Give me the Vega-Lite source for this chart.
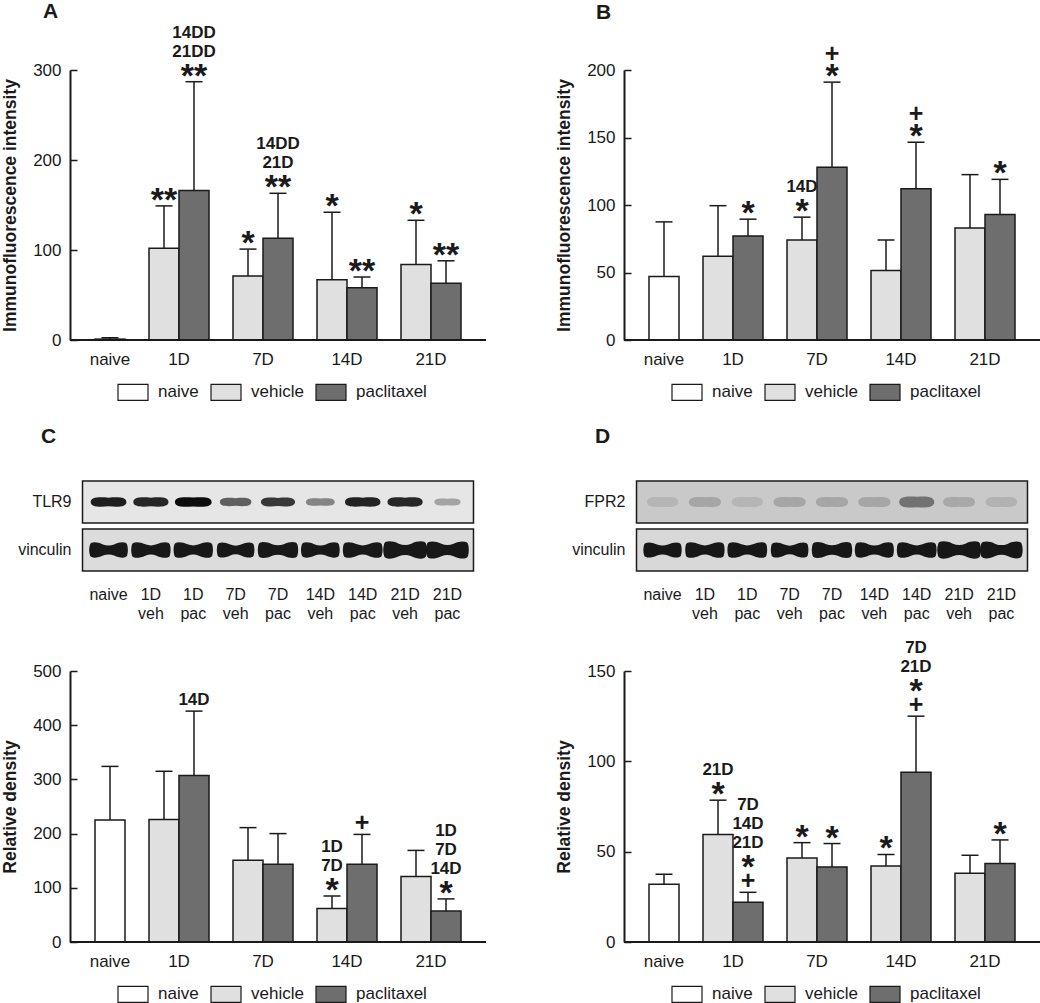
{
  "$schema": "https://vega.github.io/schema/vega-lite/v6.json",
  "background": "white",
  "padding": {"left": 1, "top": 0, "right": 0, "bottom": 0},
  "columns": 2,
  "spacing": {"row": 100, "column": 138},
  "bounds": "flush",
  "resolve": {"scale": {"fill": "independent"}, "legend": {"fill": "independent"}},
  "concat": [
    {
      "width": 416, "height": 270,
      "title": {"text": "A", "dx": -27, "dy": 4},
      "data": {"values": [
        {"g": "naive", "t": "naive", "mean": 1, "upper": 2.5},
        {"g": "1D", "t": "vehicle", "mean": 102, "upper": 149, "star": ["\u200b", "\u200b", "**"]},
        {"g": "1D", "t": "paclitaxel", "mean": 166, "upper": 287, "lab": ["14DD", "21DD"], "star": ["\u200b", "\u200b", "**"]},
        {"g": "7D", "t": "vehicle", "mean": 71, "upper": 101, "star": ["\u200b", "\u200b", "*"]},
        {"g": "7D", "t": "paclitaxel", "mean": 113, "upper": 163, "lab": ["14DD", "21D"], "star": ["\u200b", "\u200b", "**"]},
        {"g": "14D", "t": "vehicle", "mean": 67, "upper": 142, "star": ["\u200b", "\u200b", "*"]},
        {"g": "14D", "t": "paclitaxel", "mean": 58, "upper": 70, "star": ["\u200b", "\u200b", "**"]},
        {"g": "21D", "t": "vehicle", "mean": 84, "upper": 133, "star": ["\u200b", "\u200b", "*"]},
        {"g": "21D", "t": "paclitaxel", "mean": 63, "upper": 88, "star": ["\u200b", "\u200b", "**"]}
      ]},
      "layer": [
        {
          "encoding": {
            "x": {"field": "g", "type": "nominal", "scale": {"domain": ["naive", "1D", "7D", "14D", "21D"], "range": [-5, 391], "paddingInner": 0.2857, "paddingOuter": 0},
              "axis": {"title": null, "domain": false, "ticks": false, "labelAngle": 0, "labelPadding": 11, "labelOffset": {"condition": {"test": "datum.value == 'naive'", "value": 15}, "value": 0}}},
            "y": {"field": "mean", "type": "quantitative", "stack": null, "title": "Immunofluorescence intensity", "scale": {"domain": [0, 300], "nice": false},
              "axis": {"values": [0, 100, 200, 300], "tickSize": -7, "labelPadding": 16, "titlePadding": 13}}
          },
          "layer": [
            {
              "transform": [{"filter": "datum.t != 'naive'"}],
              "encoding": {"xOffset": {"field": "t", "type": "nominal", "scale": {"domain": ["vehicle", "paclitaxel"], "paddingInner": 0, "paddingOuter": 0}}},
              "layer": [
                {"mark": {"type": "rule", "strokeWidth": 1.5, "color": "#1a1a1a"}, "encoding": {"y2": {"field": "upper"}}},
                {"mark": {"type": "bar", "stroke": "#1a1a1a", "strokeWidth": 1.5},
                  "encoding": {"fill": {"field": "t", "type": "nominal", "scale": {"domain": ["naive", "vehicle", "paclitaxel"], "range": ["#ffffff", "#e0e0e0", "#6e6e6e"]},
                    "legend": {"orient": "none", "legendX": 47, "legendY": 306, "direction": "horizontal", "title": null, "symbolType": "M-1,-0.53H1V0.53H-1Z", "symbolSize": 900, "symbolStrokeColor": "#1a1a1a", "symbolStrokeWidth": 1.2, "symbolOpacity": 1, "labelOffset": 9, "columnPadding": 9}}}},
                {"mark": {"type": "tick", "size": 17, "thickness": 1.5, "color": "#1a1a1a", "opacity": 1}, "encoding": {"y": {"field": "upper", "type": "quantitative", "title": "Immunofluorescence intensity"}}},
                {"transform": [{"filter": "isValid(datum.lab)"}], "mark": {"type": "text", "baseline": "bottom", "lineHeight": 19, "fontSize": 17, "fontWeight": "bold", "dy": -40},
                  "encoding": {"y": {"field": "upper", "type": "quantitative", "title": "Immunofluorescence intensity"}, "text": {"field": "lab"}}},
                {"transform": [{"filter": "isValid(datum.star)"}], "mark": {"type": "text", "baseline": "bottom", "lineHeight": 19, "fontSize": 34, "fontWeight": "bold", "dy": -26},
                  "encoding": {"y": {"field": "upper", "type": "quantitative", "title": "Immunofluorescence intensity"}, "text": {"field": "star"}}}
              ]
            },
            {
              "transform": [{"filter": "datum.t == 'naive'"}],
              "encoding": {"xOffset": {"datum": "paclitaxel", "type": "nominal"}},
              "layer": [
                {"mark": {"type": "rule", "strokeWidth": 1.5, "color": "#1a1a1a"}, "encoding": {"y2": {"field": "upper"}}},
                {"mark": {"type": "bar", "stroke": "#1a1a1a", "strokeWidth": 1.5}, "encoding": {"fill": {"field": "t", "type": "nominal"}}},
                {"mark": {"type": "tick", "size": 17, "thickness": 1.5, "color": "#1a1a1a", "opacity": 1}, "encoding": {"y": {"field": "upper", "type": "quantitative", "title": "Immunofluorescence intensity"}}}
              ]
            }
          ]
        },
        {"mark": {"type": "rule", "strokeWidth": 2, "color": "#1a1a1a"}, "encoding": {"y": {"datum": 0, "type": "quantitative", "title": "Immunofluorescence intensity"}}}
      ]
    },
    {
      "width": 416, "height": 270,
      "title": {"text": "B", "dx": -28, "dy": -14},
      "data": {"values": [
        {"g": "naive", "t": "naive", "mean": 47, "upper": 87.5},
        {"g": "1D", "t": "vehicle", "mean": 62, "upper": 99.5},
        {"g": "1D", "t": "paclitaxel", "mean": 77, "upper": 89.5, "star": ["\u200b", "*"]},
        {"g": "7D", "t": "vehicle", "mean": 74, "upper": 91, "lab": ["14D"], "star": ["\u200b", "*"]},
        {"g": "7D", "t": "paclitaxel", "mean": 128, "upper": 191, "plus": ["+"], "star": ["\u200b", "*"]},
        {"g": "14D", "t": "vehicle", "mean": 51.5, "upper": 74},
        {"g": "14D", "t": "paclitaxel", "mean": 112, "upper": 146.5, "plus": ["+"], "star": ["\u200b", "*"]},
        {"g": "21D", "t": "vehicle", "mean": 83, "upper": 122.5},
        {"g": "21D", "t": "paclitaxel", "mean": 93, "upper": 119, "star": ["\u200b", "*"]}
      ]},
      "layer": [
        {
          "encoding": {
            "x": {"field": "g", "type": "nominal", "scale": {"domain": ["naive", "1D", "7D", "14D", "21D"], "range": [-5, 391], "paddingInner": 0.2857, "paddingOuter": 0},
              "axis": {"title": null, "domain": false, "ticks": false, "labelAngle": 0, "labelPadding": 11, "labelOffset": {"condition": {"test": "datum.value == 'naive'", "value": 15}, "value": 0}}},
            "y": {"field": "mean", "type": "quantitative", "stack": null, "title": "Immunofluorescence intensity", "scale": {"domain": [0, 200], "nice": false},
              "axis": {"values": [0, 50, 100, 150, 200], "tickSize": -7, "labelPadding": 16, "titlePadding": 13}}
          },
          "layer": [
            {
              "transform": [{"filter": "datum.t != 'naive'"}],
              "encoding": {"xOffset": {"field": "t", "type": "nominal", "scale": {"domain": ["vehicle", "paclitaxel"], "paddingInner": 0, "paddingOuter": 0}}},
              "layer": [
                {"mark": {"type": "rule", "strokeWidth": 1.5, "color": "#1a1a1a"}, "encoding": {"y2": {"field": "upper"}}},
                {"mark": {"type": "bar", "stroke": "#1a1a1a", "strokeWidth": 1.5},
                  "encoding": {"fill": {"field": "t", "type": "nominal", "scale": {"domain": ["naive", "vehicle", "paclitaxel"], "range": ["#ffffff", "#e0e0e0", "#6e6e6e"]},
                    "legend": {"orient": "none", "legendX": 47, "legendY": 306, "direction": "horizontal", "title": null, "symbolType": "M-1,-0.53H1V0.53H-1Z", "symbolSize": 900, "symbolStrokeColor": "#1a1a1a", "symbolStrokeWidth": 1.2, "symbolOpacity": 1, "labelOffset": 9, "columnPadding": 9}}}},
                {"mark": {"type": "tick", "size": 17, "thickness": 1.5, "color": "#1a1a1a", "opacity": 1}, "encoding": {"y": {"field": "upper", "type": "quantitative", "title": "Immunofluorescence intensity"}}},
                {"transform": [{"filter": "isValid(datum.lab)"}], "mark": {"type": "text", "baseline": "bottom", "lineHeight": 19, "fontSize": 17, "fontWeight": "bold", "dy": -21},
                  "encoding": {"y": {"field": "upper", "type": "quantitative", "title": "Immunofluorescence intensity"}, "text": {"field": "lab"}}},
                {"transform": [{"filter": "isValid(datum.star)"}], "mark": {"type": "text", "baseline": "bottom", "lineHeight": 19, "fontSize": 34, "fontWeight": "bold", "dy": -7},
                  "encoding": {"y": {"field": "upper", "type": "quantitative", "title": "Immunofluorescence intensity"}, "text": {"field": "star"}}},
                {"transform": [{"filter": "isValid(datum.plus)"}], "mark": {"type": "text", "baseline": "bottom", "lineHeight": 19, "fontSize": 25, "fontWeight": "bold", "dy": -15},
                  "encoding": {"y": {"field": "upper", "type": "quantitative", "title": "Immunofluorescence intensity"}, "text": {"field": "plus"}}}
              ]
            },
            {
              "transform": [{"filter": "datum.t == 'naive'"}],
              "encoding": {"xOffset": {"datum": "paclitaxel", "type": "nominal"}},
              "layer": [
                {"mark": {"type": "rule", "strokeWidth": 1.5, "color": "#1a1a1a"}, "encoding": {"y2": {"field": "upper"}}},
                {"mark": {"type": "bar", "stroke": "#1a1a1a", "strokeWidth": 1.5}, "encoding": {"fill": {"field": "t", "type": "nominal"}}},
                {"mark": {"type": "tick", "size": 17, "thickness": 1.5, "color": "#1a1a1a", "opacity": 1}, "encoding": {"y": {"field": "upper", "type": "quantitative", "title": "Immunofluorescence intensity"}}}
              ]
            }
          ]
        },
        {"mark": {"type": "rule", "strokeWidth": 2, "color": "#1a1a1a"}, "encoding": {"y": {"datum": 0, "type": "quantitative", "title": "Immunofluorescence intensity"}}}
      ]
    },
    {
      "width": 416, "height": 131,
      "title": {"text": "C", "dx": -29, "dy": 11},
      "encoding": {"y": {"field": "row", "type": "nominal", "title": null, "scale": {"domain": ["TLR9", "vinculin"], "paddingInner": 0.125, "paddingOuter": 0.427, "align": 1},
        "axis": {"domain": false, "ticks": false, "labelPadding": -1, "labelFontSize": 16}}},
      "layer": [
        {"data": {"values": [{"row": "TLR9"}, {"row": "vinculin"}]},
          "mark": {"type": "rect", "stroke": "#1a1a1a", "strokeWidth": 1.5},
          "encoding": {"x": {"datum": "box", "type": "nominal", "scale": {"type": "band", "domain": ["box"], "paddingInner": 0, "paddingOuter": 0.032}, "axis": null},
            "fill": {"condition": {"test": "datum.row == 'vinculin'", "value": "#dcdcdc"}, "value": "#e6e6e6"}}},
        {"data": {"values": [
            {"lane": "naive", "row": "TLR9", "d": 0.92}, {"lane": "1D veh", "row": "TLR9", "d": 0.88}, {"lane": "1D pac", "row": "TLR9", "d": 1},
            {"lane": "7D veh", "row": "TLR9", "d": 0.62}, {"lane": "7D pac", "row": "TLR9", "d": 0.8}, {"lane": "14D veh", "row": "TLR9", "d": 0.45},
            {"lane": "14D pac", "row": "TLR9", "d": 0.9}, {"lane": "21D veh", "row": "TLR9", "d": 0.88}, {"lane": "21D pac", "row": "TLR9", "d": 0.3},
            {"lane": "naive", "row": "vinculin", "d": 0.85}, {"lane": "1D veh", "row": "vinculin", "d": 0.87}, {"lane": "1D pac", "row": "vinculin", "d": 0.87},
            {"lane": "7D veh", "row": "vinculin", "d": 0.82}, {"lane": "7D pac", "row": "vinculin", "d": 0.9}, {"lane": "14D veh", "row": "vinculin", "d": 0.85},
            {"lane": "14D pac", "row": "vinculin", "d": 0.88}, {"lane": "21D veh", "row": "vinculin", "d": 1}, {"lane": "21D pac", "row": "vinculin", "d": 0.97}
          ]},
          "encoding": {"x": {"field": "lane", "type": "nominal", "scale": {"type": "band", "domain": ["naive", "1D veh", "1D pac", "7D veh", "7D pac", "14D veh", "14D pac", "21D veh", "21D pac"], "paddingInner": 0, "paddingOuter": 0.41},
            "axis": {"orient": "bottom", "title": null, "domain": false, "ticks": false, "labelAngle": 0, "labelFontSize": 16, "labelPadding": 15, "labelLineHeight": 19, "labelExpr": "split(datum.label, ' ')"}}},
          "layer": [
            {"transform": [{"filter": "datum.row == 'TLR9'"}],
              "mark": {"type": "point", "shape": "M-1,0C-1,-0.26 -0.6,-0.3 0,-0.24C0.6,-0.3 1,-0.26 1,0C1,0.26 0.6,0.3 0,0.24C-0.6,0.3 -1,0.26 -1,0Z", "filled": true, "color": "#0d0d0d", "strokeWidth": 0},
              "encoding": {"opacity": {"field": "d", "type": "quantitative", "scale": {"domain": [0, 1], "range": [0, 1]}, "legend": null},
                "size": {"field": "d", "type": "quantitative", "scale": {"domain": [0, 1], "range": [400, 1350]}, "legend": null}}},
            {"transform": [{"filter": "datum.row == 'vinculin'"}],
              "mark": {"type": "point", "shape": "M-1,-0.3C-0.95,-0.45 -0.6,-0.45 -0.3,-0.3C-0.1,-0.22 0.1,-0.22 0.3,-0.3C0.6,-0.45 0.95,-0.45 1,-0.3C1.06,-0.1 1.06,0.1 1,0.3C0.95,0.45 0.6,0.45 0.3,0.3C0.1,0.22 -0.1,0.22 -0.3,0.3C-0.6,0.45 -0.95,0.45 -1,0.3C-1.06,0.1 -1.06,-0.1 -1,-0.3Z", "filled": true, "color": "#0d0d0d", "strokeWidth": 0, "opacity": 0.95},
              "encoding": {"size": {"field": "d", "type": "quantitative", "scale": {"domain": [0.8, 1], "range": [1250, 1750]}, "legend": null}}}
          ],
          "resolve": {"scale": {"size": "independent"}}
        }
      ],
      "resolve": {"scale": {"x": "independent"}, "axis": {"x": "independent"}}
    },
    {
      "width": 416, "height": 131,
      "title": {"text": "D", "dx": -29, "dy": 11},
      "encoding": {"y": {"field": "row", "type": "nominal", "title": null, "scale": {"domain": ["FPR2", "vinculin"], "paddingInner": 0.125, "paddingOuter": 0.427, "align": 1},
        "axis": {"domain": false, "ticks": false, "labelPadding": -1, "labelFontSize": 16}}},
      "layer": [
        {"data": {"values": [{"row": "FPR2"}, {"row": "vinculin"}]},
          "mark": {"type": "rect", "stroke": "#1a1a1a", "strokeWidth": 1.5},
          "encoding": {"x": {"datum": "box", "type": "nominal", "scale": {"type": "band", "domain": ["box"], "paddingInner": 0, "paddingOuter": 0.032}, "axis": null},
            "fill": {"condition": {"test": "datum.row == 'vinculin'", "value": "#d8d8d8"}, "value": "#c9c9c9"}}},
        {"data": {"values": [
            {"lane": "naive", "row": "FPR2", "d": 0.12}, {"lane": "1D veh", "row": "FPR2", "d": 0.22}, {"lane": "1D pac", "row": "FPR2", "d": 0.12},
            {"lane": "7D veh", "row": "FPR2", "d": 0.22}, {"lane": "7D pac", "row": "FPR2", "d": 0.22}, {"lane": "14D veh", "row": "FPR2", "d": 0.22},
            {"lane": "14D pac", "row": "FPR2", "d": 0.55}, {"lane": "21D veh", "row": "FPR2", "d": 0.2}, {"lane": "21D pac", "row": "FPR2", "d": 0.14},
            {"lane": "naive", "row": "vinculin", "d": 0.84}, {"lane": "1D veh", "row": "vinculin", "d": 0.87}, {"lane": "1D pac", "row": "vinculin", "d": 0.88},
            {"lane": "7D veh", "row": "vinculin", "d": 0.82}, {"lane": "7D pac", "row": "vinculin", "d": 0.9}, {"lane": "14D veh", "row": "vinculin", "d": 0.86},
            {"lane": "14D pac", "row": "vinculin", "d": 0.88}, {"lane": "21D veh", "row": "vinculin", "d": 1}, {"lane": "21D pac", "row": "vinculin", "d": 0.96}
          ]},
          "encoding": {"x": {"field": "lane", "type": "nominal", "scale": {"type": "band", "domain": ["naive", "1D veh", "1D pac", "7D veh", "7D pac", "14D veh", "14D pac", "21D veh", "21D pac"], "paddingInner": 0, "paddingOuter": 0.41},
            "axis": {"orient": "bottom", "title": null, "domain": false, "ticks": false, "labelAngle": 0, "labelFontSize": 16, "labelPadding": 15, "labelLineHeight": 19, "labelExpr": "split(datum.label, ' ')"}}},
          "layer": [
            {"transform": [{"filter": "datum.row == 'FPR2'"}],
              "mark": {"type": "point", "shape": "M-1,0C-1,-0.3 -0.6,-0.35 0,-0.3C0.6,-0.35 1,-0.3 1,0C1,0.3 0.6,0.35 0,0.3C-0.6,0.35 -1,0.3 -1,0Z", "filled": true, "color": "#2a2a2a", "strokeWidth": 0},
              "encoding": {"opacity": {"field": "d", "type": "quantitative", "scale": {"domain": [0, 1], "range": [0, 0.6]}, "legend": null},
                "size": {"field": "d", "type": "quantitative", "scale": {"domain": [0, 1], "range": [900, 1500]}, "legend": null}}},
            {"transform": [{"filter": "datum.row == 'vinculin'"}],
              "mark": {"type": "point", "shape": "M-1,-0.3C-0.95,-0.45 -0.6,-0.45 -0.3,-0.3C-0.1,-0.22 0.1,-0.22 0.3,-0.3C0.6,-0.45 0.95,-0.45 1,-0.3C1.06,-0.1 1.06,0.1 1,0.3C0.95,0.45 0.6,0.45 0.3,0.3C0.1,0.22 -0.1,0.22 -0.3,0.3C-0.6,0.45 -0.95,0.45 -1,0.3C-1.06,0.1 -1.06,-0.1 -1,-0.3Z", "filled": true, "color": "#0d0d0d", "strokeWidth": 0, "opacity": 0.95},
              "encoding": {"size": {"field": "d", "type": "quantitative", "scale": {"domain": [0.8, 1], "range": [1250, 1750]}, "legend": null}}}
          ],
          "resolve": {"scale": {"size": "independent"}}
        }
      ],
      "resolve": {"scale": {"x": "independent"}, "axis": {"x": "independent"}}
    },
    {
      "width": 416, "height": 271,
      "data": {"values": [
        {"g": "naive", "t": "naive", "mean": 225, "upper": 324},
        {"g": "1D", "t": "vehicle", "mean": 226, "upper": 315},
        {"g": "1D", "t": "paclitaxel", "mean": 307, "upper": 426, "lab": ["\u200b", "\u200b", "\u200b", "14D"]},
        {"g": "7D", "t": "vehicle", "mean": 151, "upper": 211},
        {"g": "7D", "t": "paclitaxel", "mean": 143.5, "upper": 200},
        {"g": "14D", "t": "vehicle", "mean": 62, "upper": 85, "lab": ["\u200b", "1D", "7D"], "star": ["\u200b", "\u200b", "\u200b", "*"]},
        {"g": "14D", "t": "paclitaxel", "mean": 143.5, "upper": 198.5, "plus": ["\u200b", "\u200b", "\u200b", "+"]},
        {"g": "21D", "t": "vehicle", "mean": 121, "upper": 169},
        {"g": "21D", "t": "paclitaxel", "mean": 57, "upper": 79.5, "lab": ["1D", "7D", "14D"], "star": ["\u200b", "\u200b", "\u200b", "*"]}
      ]},
      "layer": [
        {
          "encoding": {
            "x": {"field": "g", "type": "nominal", "scale": {"domain": ["naive", "1D", "7D", "14D", "21D"], "range": [-5, 391], "paddingInner": 0.2857, "paddingOuter": 0},
              "axis": {"title": null, "domain": false, "ticks": false, "labelAngle": 0, "labelPadding": 11, "labelOffset": {"condition": {"test": "datum.value == 'naive'", "value": 15}, "value": 0}}},
            "y": {"field": "mean", "type": "quantitative", "stack": null, "title": "Relative density", "scale": {"domain": [0, 500], "nice": false},
              "axis": {"values": [0, 100, 200, 300, 400, 500], "tickSize": -7, "labelPadding": 16, "titlePadding": 13}}
          },
          "layer": [
            {
              "transform": [{"filter": "datum.t != 'naive'"}],
              "encoding": {"xOffset": {"field": "t", "type": "nominal", "scale": {"domain": ["vehicle", "paclitaxel"], "paddingInner": 0, "paddingOuter": 0}}},
              "layer": [
                {"mark": {"type": "rule", "strokeWidth": 1.5, "color": "#1a1a1a"}, "encoding": {"y2": {"field": "upper"}}},
                {"mark": {"type": "bar", "stroke": "#1a1a1a", "strokeWidth": 1.5},
                  "encoding": {"fill": {"field": "t", "type": "nominal", "scale": {"domain": ["naive", "vehicle", "paclitaxel"], "range": ["#ffffff", "#e0e0e0", "#6e6e6e"]},
                    "legend": {"orient": "none", "legendX": 47, "legendY": 307, "direction": "horizontal", "title": null, "symbolType": "M-1,-0.53H1V0.53H-1Z", "symbolSize": 900, "symbolStrokeColor": "#1a1a1a", "symbolStrokeWidth": 1.2, "symbolOpacity": 1, "labelOffset": 9, "columnPadding": 9}}}},
                {"mark": {"type": "tick", "size": 17, "thickness": 1.5, "color": "#1a1a1a", "opacity": 1}, "encoding": {"y": {"field": "upper", "type": "quantitative", "title": "Relative density"}}},
                {"transform": [{"filter": "isValid(datum.lab)"}], "mark": {"type": "text", "baseline": "bottom", "lineHeight": 19, "fontSize": 17, "fontWeight": "bold", "dy": -59},
                  "encoding": {"y": {"field": "upper", "type": "quantitative", "title": "Relative density"}, "text": {"field": "lab"}}},
                {"transform": [{"filter": "isValid(datum.star)"}], "mark": {"type": "text", "baseline": "bottom", "lineHeight": 19, "fontSize": 34, "fontWeight": "bold", "dy": -45},
                  "encoding": {"y": {"field": "upper", "type": "quantitative", "title": "Relative density"}, "text": {"field": "star"}}},
                {"transform": [{"filter": "isValid(datum.plus)"}], "mark": {"type": "text", "baseline": "bottom", "lineHeight": 19, "fontSize": 25, "fontWeight": "bold", "dy": -55},
                  "encoding": {"y": {"field": "upper", "type": "quantitative", "title": "Relative density"}, "text": {"field": "plus"}}}
              ]
            },
            {
              "transform": [{"filter": "datum.t == 'naive'"}],
              "encoding": {"xOffset": {"datum": "paclitaxel", "type": "nominal"}},
              "layer": [
                {"mark": {"type": "rule", "strokeWidth": 1.5, "color": "#1a1a1a"}, "encoding": {"y2": {"field": "upper"}}},
                {"mark": {"type": "bar", "stroke": "#1a1a1a", "strokeWidth": 1.5}, "encoding": {"fill": {"field": "t", "type": "nominal"}}},
                {"mark": {"type": "tick", "size": 17, "thickness": 1.5, "color": "#1a1a1a", "opacity": 1}, "encoding": {"y": {"field": "upper", "type": "quantitative", "title": "Relative density"}}}
              ]
            }
          ]
        },
        {"mark": {"type": "rule", "strokeWidth": 2, "color": "#1a1a1a"}, "encoding": {"y": {"datum": 0, "type": "quantitative", "title": "Relative density"}}}
      ]
    },
    {
      "width": 416, "height": 271,
      "data": {"values": [
        {"g": "naive", "t": "naive", "mean": 32, "upper": 37.5},
        {"g": "1D", "t": "vehicle", "mean": 59.5, "upper": 78.5, "lab": ["\u200b", "\u200b", "\u200b", "21D"], "star": ["\u200b", "\u200b", "\u200b", "\u200b", "*"]},
        {"g": "1D", "t": "paclitaxel", "mean": 22, "upper": 27.5, "lab": ["7D", "14D", "21D"], "star": ["\u200b", "\u200b", "\u200b", "*"], "plus": ["\u200b", "\u200b", "\u200b", "\u200b", "+"]},
        {"g": "7D", "t": "vehicle", "mean": 46.5, "upper": 55, "star": ["\u200b", "\u200b", "\u200b", "\u200b", "*"]},
        {"g": "7D", "t": "paclitaxel", "mean": 41.5, "upper": 54.5, "star": ["\u200b", "\u200b", "\u200b", "\u200b", "*"]},
        {"g": "14D", "t": "vehicle", "mean": 42, "upper": 48.5, "star": ["\u200b", "\u200b", "\u200b", "\u200b", "*"]},
        {"g": "14D", "t": "paclitaxel", "mean": 94, "upper": 125, "lab": ["\u200b", "7D", "21D"], "star": ["\u200b", "\u200b", "\u200b", "*"], "plus": ["\u200b", "\u200b", "\u200b", "\u200b", "+"]},
        {"g": "21D", "t": "vehicle", "mean": 38, "upper": 48},
        {"g": "21D", "t": "paclitaxel", "mean": 43.5, "upper": 56.5, "star": ["\u200b", "\u200b", "\u200b", "\u200b", "*"]}
      ]},
      "layer": [
        {
          "encoding": {
            "x": {"field": "g", "type": "nominal", "scale": {"domain": ["naive", "1D", "7D", "14D", "21D"], "range": [-5, 391], "paddingInner": 0.2857, "paddingOuter": 0},
              "axis": {"title": null, "domain": false, "ticks": false, "labelAngle": 0, "labelPadding": 11, "labelOffset": {"condition": {"test": "datum.value == 'naive'", "value": 15}, "value": 0}}},
            "y": {"field": "mean", "type": "quantitative", "stack": null, "title": "Relative density", "scale": {"domain": [0, 150], "nice": false},
              "axis": {"values": [0, 50, 100, 150], "tickSize": -7, "labelPadding": 16, "titlePadding": 13}}
          },
          "layer": [
            {
              "transform": [{"filter": "datum.t != 'naive'"}],
              "encoding": {"xOffset": {"field": "t", "type": "nominal", "scale": {"domain": ["vehicle", "paclitaxel"], "paddingInner": 0, "paddingOuter": 0}}},
              "layer": [
                {"mark": {"type": "rule", "strokeWidth": 1.5, "color": "#1a1a1a"}, "encoding": {"y2": {"field": "upper"}}},
                {"mark": {"type": "bar", "stroke": "#1a1a1a", "strokeWidth": 1.5},
                  "encoding": {"fill": {"field": "t", "type": "nominal", "scale": {"domain": ["naive", "vehicle", "paclitaxel"], "range": ["#ffffff", "#e0e0e0", "#6e6e6e"]},
                    "legend": {"orient": "none", "legendX": 47, "legendY": 307, "direction": "horizontal", "title": null, "symbolType": "M-1,-0.53H1V0.53H-1Z", "symbolSize": 900, "symbolStrokeColor": "#1a1a1a", "symbolStrokeWidth": 1.2, "symbolOpacity": 1, "labelOffset": 9, "columnPadding": 9}}}},
                {"mark": {"type": "tick", "size": 17, "thickness": 1.5, "color": "#1a1a1a", "opacity": 1}, "encoding": {"y": {"field": "upper", "type": "quantitative", "title": "Relative density"}}},
                {"transform": [{"filter": "isValid(datum.lab)"}], "mark": {"type": "text", "baseline": "bottom", "lineHeight": 19, "fontSize": 17, "fontWeight": "bold", "dy": -78},
                  "encoding": {"y": {"field": "upper", "type": "quantitative", "title": "Relative density"}, "text": {"field": "lab"}}},
                {"transform": [{"filter": "isValid(datum.star)"}], "mark": {"type": "text", "baseline": "bottom", "lineHeight": 19, "fontSize": 34, "fontWeight": "bold", "dy": -64},
                  "encoding": {"y": {"field": "upper", "type": "quantitative", "title": "Relative density"}, "text": {"field": "star"}}},
                {"transform": [{"filter": "isValid(datum.plus)"}], "mark": {"type": "text", "baseline": "bottom", "lineHeight": 19, "fontSize": 25, "fontWeight": "bold", "dy": -74},
                  "encoding": {"y": {"field": "upper", "type": "quantitative", "title": "Relative density"}, "text": {"field": "plus"}}}
              ]
            },
            {
              "transform": [{"filter": "datum.t == 'naive'"}],
              "encoding": {"xOffset": {"datum": "paclitaxel", "type": "nominal"}},
              "layer": [
                {"mark": {"type": "rule", "strokeWidth": 1.5, "color": "#1a1a1a"}, "encoding": {"y2": {"field": "upper"}}},
                {"mark": {"type": "bar", "stroke": "#1a1a1a", "strokeWidth": 1.5}, "encoding": {"fill": {"field": "t", "type": "nominal"}}},
                {"mark": {"type": "tick", "size": 17, "thickness": 1.5, "color": "#1a1a1a", "opacity": 1}, "encoding": {"y": {"field": "upper", "type": "quantitative", "title": "Relative density"}}}
              ]
            }
          ]
        },
        {"mark": {"type": "rule", "strokeWidth": 2, "color": "#1a1a1a"}, "encoding": {"y": {"datum": 0, "type": "quantitative", "title": "Relative density"}}}
      ]
    }
  ],
  "config": {
    "font": "Liberation Sans",
    "view": {"stroke": null},
    "title": {"fontSize": 21, "fontWeight": "bold", "anchor": "start", "frame": "group", "color": "#1a1a1a"},
    "axis": {"grid": false, "labelFontSize": 17, "titleFontSize": 17.5, "titleFontWeight": "bold", "labelColor": "#1a1a1a", "titleColor": "#1a1a1a", "domainColor": "#1a1a1a", "tickColor": "#1a1a1a", "domainWidth": 2, "tickWidth": 1.5},
    "legend": {"labelFontSize": 17, "labelColor": "#1a1a1a"},
    "text": {"color": "#1a1a1a"}
  }
}
